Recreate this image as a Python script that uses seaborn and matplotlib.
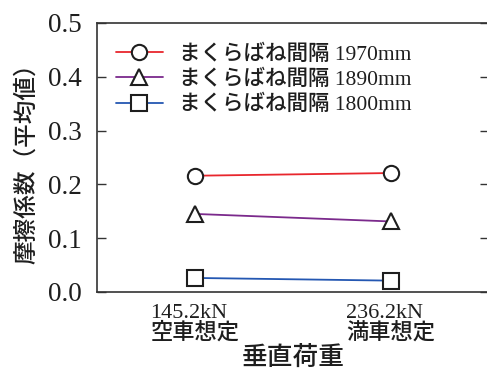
import matplotlib
matplotlib.use("Agg")
import matplotlib.pyplot as plt
import seaborn as sns
import pandas as pd

# Vertical load cases (x categories)
loads = ["145.2kN\n空車想定", "236.2kN\n満車想定"]

# Mean friction coefficient for each bolster spring spacing
spacing_labels = ["まくらばね間隔 1970mm", "まくらばね間隔 1890mm", "まくらばね間隔 1800mm"]
mu_1970 = [0.216, 0.221]
mu_1890 = [0.145, 0.131]
mu_1800 = [0.026, 0.021]

yticks = [0.0, 0.1, 0.2, 0.3, 0.4, 0.5]

line_colors = ["#e8262d", "#7b2a8c", "#2457b2"]
marker_shapes = ["o", "^", "s"]

df = pd.DataFrame({
    "load": loads * 3,
    "mu": mu_1970 + mu_1890 + mu_1800,
    "spacing": [spacing_labels[0]] * 2 + [spacing_labels[1]] * 2 + [spacing_labels[2]] * 2,
})

sns.set_theme(style="ticks")
plt.rcParams["font.family"] = ["Liberation Serif", "Noto Sans CJK JP"]
plt.rcParams["axes.unicode_minus"] = False
INK = "#1e1e1e"

fig = plt.figure(figsize=(4.87, 3.70), dpi=100)
ax = fig.add_axes([0.199, 0.211, 0.805, 0.727])

sns.lineplot(
    data=df, x="load", y="mu", hue="spacing", style="spacing",
    hue_order=spacing_labels, style_order=spacing_labels,
    palette=dict(zip(spacing_labels, line_colors)),
    markers=dict(zip(spacing_labels, marker_shapes)),
    dashes=False, sort=False, legend=False, ax=ax,
    linewidth=1.3, markersize=11, markerfacecolor="white",
    markeredgecolor=INK, markeredgewidth=1.5,
)

ax.set_xlim(-0.5, 1.5)
ax.set_ylim(0, 0.5)
ax.set_yticks(yticks)
ax.set_yticklabels([f"{v:.1f}" for v in yticks], fontsize=19.5, color=INK)
ax.set_xticks(range(len(loads)))
ax.set_xticklabels(loads, fontsize=16, fontweight="medium", color=INK,
                   multialignment="left", linespacing=0.95)

ax.tick_params(axis="y", direction="in", length=6.5, width=1.0, color="#333333",
               pad=11, left=True, right=True)
ax.tick_params(axis="x", length=0, pad=9)

for side in ["left", "top", "bottom"]:
    ax.spines[side].set_color("#333333")
    ax.spines[side].set_linewidth(1.2)
ax.spines["right"].set_visible(False)

ax.set_xlabel("垂直荷重", fontsize=18.5, fontweight="medium", color=INK,
              family=["Noto Sans CJK JP"], labelpad=0)
ax.set_ylabel("摩擦係数（平均値）", fontsize=17, fontweight="medium", color=INK,
              family=["Noto Sans CJK JP"], labelpad=7)

leg = ax.legend(ax.lines[:3], spacing_labels, loc="upper left", frameon=False,
                prop={"size": 15.5, "weight": "medium"},
                handlelength=2.2, handletextpad=0.75, labelspacing=0.22,
                borderaxespad=0.0, borderpad=0.0,
                bbox_to_anchor=(0.048, 0.92))
for t in leg.get_texts():
    t.set_color(INK)

fig.savefig("out.png", dpi=100)
